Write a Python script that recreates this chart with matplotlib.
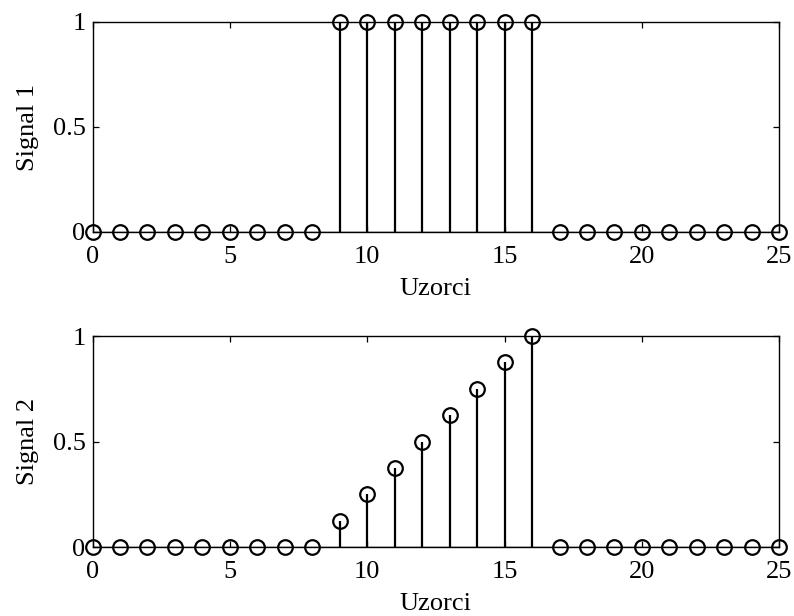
import numpy as np
import matplotlib.pyplot as plt

plt.rcParams['font.family'] = ['Liberation Serif', 'DejaVu Serif']
plt.rcParams['font.size'] = 19

# samples 0..25
n = list(range(26))
signal1 = [0]*9 + [1]*8 + [0]*9
signal2 = [0]*9 + [0.125, 0.25, 0.375, 0.5, 0.625, 0.75, 0.875, 1.0] + [0]*9

xticks = [0, 5, 10, 15, 20, 25]
yticks = [0, 0.5, 1]
ytick_labels = ['0', '0.5', '1']

fig = plt.figure(figsize=(7.94, 6.16), dpi=100)
ax1 = fig.add_axes([0.1165, 0.6234, 0.865, 0.341])
ax2 = fig.add_axes([0.1165, 0.112, 0.865, 0.3425])


def draw_stem(ax, y, ylabel):
    markerline, stemlines, baseline = ax.stem(n, y, linefmt='k-', markerfmt='ko', basefmt='k-')
    markerline.set_markerfacecolor('none')
    markerline.set_markeredgewidth(1.6)
    markerline.set_markersize(10.5)
    markerline.set_clip_on(False)
    stemlines.set_linewidth(1.6)
    baseline.set_linewidth(1.0)
    baseline.set_xdata([0, 25])
    ax.set_xlim(0, 25)
    ax.set_ylim(0, 1)
    ax.set_xticks(xticks)
    ax.set_yticks(yticks)
    ax.set_yticklabels(ytick_labels)
    ax.tick_params(direction='in', top=True, right=True, length=4.5, width=0.9, labelsize=19)
    ax.tick_params(axis='x', pad=10)
    ax.tick_params(axis='y', pad=5)
    for s in ax.spines.values():
        s.set_linewidth(1.0)
    ax.set_xlabel('Uzorci', fontsize=19, labelpad=7)
    ax.set_ylabel(ylabel, fontsize=19, labelpad=10)


draw_stem(ax1, signal1, 'Signal 1')
draw_stem(ax2, signal2, 'Signal 2')

fig.savefig('out.png', dpi=100)
